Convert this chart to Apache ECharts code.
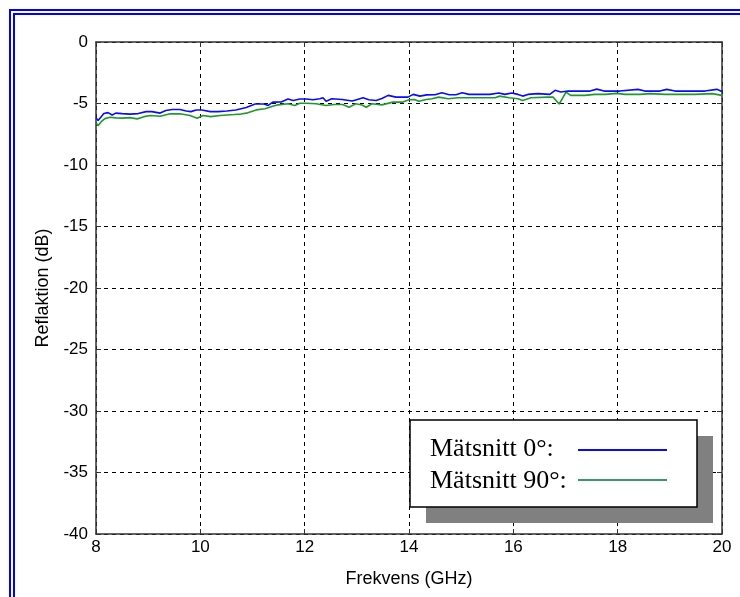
<!DOCTYPE html>
<html>
<head>
<meta charset="utf-8">
<script src="https://cdn.jsdelivr.net/npm/echarts@6/dist/echarts.min.js"></script>
<style>
  html, body { margin: 0; padding: 0; background: #ffffff; }
  #chart { width: 740px; height: 597px; }
</style>
</head>
<body>
<div id="chart"></div>
<script>
// Reflection measurement, 8–20 GHz, two measurement cuts
const xTicks = [8, 10, 12, 14, 16, 18, 20];
const yTicks = [-40, -35, -30, -25, -20, -15, -10, -5, 0];

// Mätsnitt 0° : frequency (GHz)
const freq0 = [8.00, 8.04, 8.10, 8.15, 8.23, 8.31, 8.38, 8.50, 8.65, 8.81, 8.96, 9.07, 9.23, 9.34, 9.46, 9.61, 9.73, 9.82, 9.92, 10.03,
  10.19, 10.34, 10.51, 10.68, 10.88, 11.05, 11.22, 11.30, 11.39, 11.55, 11.68, 11.78, 11.91, 12.03, 12.16, 12.29, 12.35, 12.41, 12.52, 12.72,
  12.91, 12.98, 13.12, 13.23, 13.37, 13.48, 13.60, 13.75, 13.90, 13.98, 14.08, 14.21, 14.34, 14.50, 14.63, 14.77, 14.90, 15.02, 15.15, 15.36,
  15.55, 15.72, 15.84, 15.97, 16.09, 16.18, 16.28, 16.47, 16.70, 16.80, 16.91, 17.05, 17.28, 17.47, 17.60, 17.74, 18.04, 18.39, 18.52, 18.81,
  18.94, 19.10, 19.38, 19.67, 19.90, 20.00];
// Mätsnitt 0° : reflection (dB)
const refl0 = [-6.15, -6.39, -6.07, -5.82, -5.74, -5.94, -5.78, -5.82, -5.86, -5.82, -5.66, -5.66, -5.78, -5.57, -5.49, -5.49, -5.61, -5.66, -5.53, -5.53,
  -5.66, -5.66, -5.61, -5.53, -5.33, -5.04, -5.04, -5.16, -4.89, -4.88, -4.63, -4.75, -4.63, -4.63, -4.70, -4.61, -4.53, -4.81, -4.61, -4.67,
  -4.80, -4.71, -4.53, -4.70, -4.75, -4.59, -4.34, -4.48, -4.48, -4.48, -4.26, -4.40, -4.30, -4.29, -4.12, -4.29, -4.29, -4.12, -4.26, -4.26,
  -4.26, -4.14, -4.26, -4.14, -4.26, -4.40, -4.26, -4.20, -4.26, -3.93, -4.07, -3.99, -3.99, -3.99, -3.83, -3.99, -3.99, -3.85, -3.99, -3.99,
  -3.85, -3.99, -3.99, -3.99, -3.85, -4.02];

// Mätsnitt 90° : frequency (GHz)
const freq90 = [8.00, 8.04, 8.10, 8.17, 8.27, 8.38, 8.50, 8.65, 8.79, 8.92, 9.04, 9.23, 9.42, 9.61, 9.80, 9.94, 10.05, 10.20, 10.38, 10.51,
  10.65, 10.78, 10.91, 11.07, 11.24, 11.37, 11.49, 11.68, 11.81, 11.91, 12.03, 12.22, 12.41, 12.56, 12.73, 12.85, 12.98, 13.10, 13.18, 13.29,
  13.48, 13.69, 13.87, 14.00, 14.10, 14.19, 14.33, 14.44, 14.57, 14.75, 14.94, 15.25, 15.65, 15.74, 15.92, 16.09, 16.18, 16.34, 16.66, 16.76,
  16.88, 17.01, 17.10, 17.37, 17.56, 17.76, 17.99, 18.14, 18.43, 18.62, 18.91, 19.20, 19.48, 19.81, 20.00];
// Mätsnitt 90° : reflection (dB)
const refl90 = [-6.56, -6.80, -6.48, -6.23, -6.12, -6.17, -6.19, -6.15, -6.25, -6.07, -5.98, -6.04, -5.84, -5.84, -5.98, -6.20, -5.98, -6.07, -5.98, -5.93,
  -5.90, -5.86, -5.76, -5.52, -5.43, -5.25, -5.11, -5.02, -5.16, -4.98, -4.98, -5.02, -5.16, -5.08, -5.08, -5.30, -5.02, -5.12, -5.30, -5.02,
  -5.11, -4.89, -4.89, -4.70, -4.67, -4.81, -4.67, -4.61, -4.48, -4.61, -4.53, -4.53, -4.53, -4.40, -4.53, -4.61, -4.75, -4.53, -4.48, -4.48,
  -5.04, -4.07, -4.34, -4.34, -4.26, -4.26, -4.18, -4.26, -4.26, -4.20, -4.26, -4.26, -4.26, -4.20, -4.34];

const legendLabels = ['Mätsnitt 0°:', 'Mätsnitt 90°:'];
const lineColors = ['#0a0aff', '#1f9a2a'];
const legendColors = ['#0a0aff', '#3a9a66'];

const pairs = (xs, ys) => xs.map((x, i) => [x, ys[i]]);

const sansFamily = 'Liberation Sans, Arial, sans-serif';
const tickFont = { fontFamily: sansFamily, fontSize: 17, color: '#000' };
const titleFont = { fontFamily: sansFamily, fontSize: 18, color: '#000' };
const legendFont = '26px "Liberation Serif", "Times New Roman", serif';
const gridLine = { show: true, lineStyle: { color: '#000', type: [4, 4], width: 1 } };
const frameLine = { show: true, onZero: false, lineStyle: { color: '#333', width: 1.5 } };
const innerTick = { show: true, inside: true, length: 5, lineStyle: { color: '#333', width: 1 } };

const chart = echarts.init(document.getElementById('chart'), null, { renderer: 'canvas' });

chart.setOption({
  backgroundColor: '#ffffff',
  animation: false,
  grid: { left: 96, top: 42, width: 626, height: 492, containLabel: false },
  xAxis: [
    {
      type: 'value', min: xTicks[0], max: xTicks[xTicks.length - 1], interval: 2, position: 'bottom',
      axisLine: frameLine, axisTick: innerTick, splitLine: gridLine,
      axisLabel: Object.assign({ margin: 5 }, tickFont),
      name: 'Frekvens (GHz)', nameLocation: 'middle', nameGap: 36,
      nameTextStyle: Object.assign({}, titleFont)
    },
    {
      type: 'value', min: xTicks[0], max: xTicks[xTicks.length - 1], interval: 2, position: 'top',
      axisLine: frameLine, axisTick: innerTick, splitLine: { show: false }, axisLabel: { show: false }
    }
  ],
  yAxis: [
    {
      type: 'value', min: yTicks[0], max: yTicks[yTicks.length - 1], interval: 5, position: 'left',
      axisLine: frameLine, axisTick: innerTick, splitLine: gridLine,
      axisLabel: Object.assign({ margin: 8 }, tickFont),
      name: 'Reflaktion (dB)', nameLocation: 'middle', nameGap: 39, nameRotate: 90,
      nameTextStyle: Object.assign({}, titleFont)
    },
    {
      type: 'value', min: yTicks[0], max: yTicks[yTicks.length - 1], interval: 5, position: 'right',
      axisLine: frameLine, axisTick: innerTick, splitLine: { show: false }, axisLabel: { show: false }
    }
  ],
  series: [
    {
      name: legendLabels[0], type: 'line', xAxisIndex: 0, yAxisIndex: 0,
      data: pairs(freq0, refl0), showSymbol: false, smooth: false,
      lineStyle: { color: lineColors[0], width: 1.6 }, z: 3
    },
    {
      name: legendLabels[1], type: 'line', xAxisIndex: 0, yAxisIndex: 0,
      data: pairs(freq90, refl90), showSymbol: false, smooth: false,
      lineStyle: { color: lineColors[1], width: 1.6 }, z: 2
    }
  ],
  graphic: [
    // double blue frame around the figure
    { type: 'rect', shape: { x: 10, y: 10, width: 760, height: 620 }, style: { fill: null, stroke: '#0000ff', lineWidth: 2 }, z: 100, silent: true },
    { type: 'rect', shape: { x: 14, y: 14, width: 760, height: 620 }, style: { fill: null, stroke: '#0000ff', lineWidth: 2 }, z: 100, silent: true },
    // legend box with drop shadow
    { type: 'rect', shape: { x: 426, y: 436, width: 287, height: 87 }, style: { fill: '#808080' }, z: 50, silent: true },
    { type: 'rect', shape: { x: 410, y: 420, width: 287, height: 87 }, style: { fill: '#ffffff', stroke: '#000', lineWidth: 1.5 }, z: 51, silent: true },
    { type: 'text', x: 430, y: 449, style: { text: legendLabels[0], font: legendFont, fill: '#000', verticalAlign: 'middle' }, z: 52, silent: true },
    { type: 'text', x: 430, y: 481, style: { text: legendLabels[1], font: legendFont, fill: '#000', verticalAlign: 'middle' }, z: 52, silent: true },
    { type: 'line', shape: { x1: 578, y1: 450, x2: 667, y2: 450 }, style: { stroke: legendColors[0], lineWidth: 2 }, z: 52, silent: true },
    { type: 'line', shape: { x1: 578, y1: 480, x2: 667, y2: 480 }, style: { stroke: legendColors[1], lineWidth: 2 }, z: 52, silent: true }
  ]
});
</script>
</body>
</html>
